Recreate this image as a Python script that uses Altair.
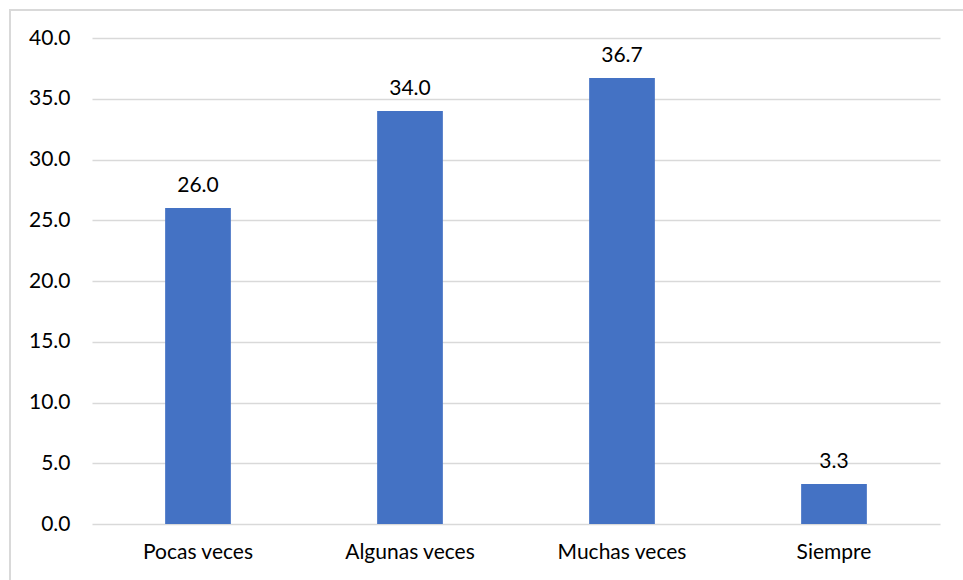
import altair as alt
import pandas as pd

categorias = ["Pocas veces", "Algunas veces", "Muchas veces", "Siempre"]
porcentajes = [26.0, 34.0, 36.7, 3.3]

df = pd.DataFrame({"categoria": categorias, "valor": porcentajes})

W, H = 848, 486
FONT = "Lato"
FS = 21

x_enc = alt.X(
    "categoria:N",
    sort=categorias,
    scale=alt.Scale(paddingInner=0.69, paddingOuter=0.345),
    axis=alt.Axis(
        title=None, labelAngle=0, domain=False, ticks=False,
        labelPadding=17, labelFontSize=FS, labelFont=FONT, labelColor="#000000",
    ),
)
y_enc = alt.Y(
    "valor:Q",
    scale=alt.Scale(domain=[0, 40], nice=False),
    axis=alt.Axis(
        title=None, values=[0, 5, 10, 15, 20, 25, 30, 35, 40], format=".1f",
        domain=False, ticks=False, labelPadding=22, labelFontSize=FS,
        labelFont=FONT, labelColor="#000000", gridColor="#d9d9d9", gridWidth=1.3,
    ),
)

# outer chart border (unfilled so axes stay visible)
frame = alt.Chart(df).mark_rect(
    filled=False, stroke="#d9d9d9", strokeWidth=1.5
).encode(
    x=alt.value(-82), x2=alt.value(W + 60), y=alt.value(-28), y2=alt.value(H + 80)
)

bars = alt.Chart(df).mark_bar(color="#4472C4").encode(x=x_enc, y=y_enc)

labels = alt.Chart(df).mark_text(
    dy=-12, baseline="bottom", fontSize=FS, font=FONT, color="#000000"
).encode(
    x=alt.X("categoria:N", sort=categorias),
    y="valor:Q",
    text=alt.Text("valor:Q", format=".1f"),
)

chart = alt.layer(frame, bars, labels).properties(
    width=W, height=H,
    autosize=alt.AutoSizeParams(type="none"),
    padding={"left": 92, "top": 38, "right": 23, "bottom": 56},
    background="white",
).configure_view(stroke=None)

chart.save("out.html", embed_options={"renderer": "svg", "actions": False})
